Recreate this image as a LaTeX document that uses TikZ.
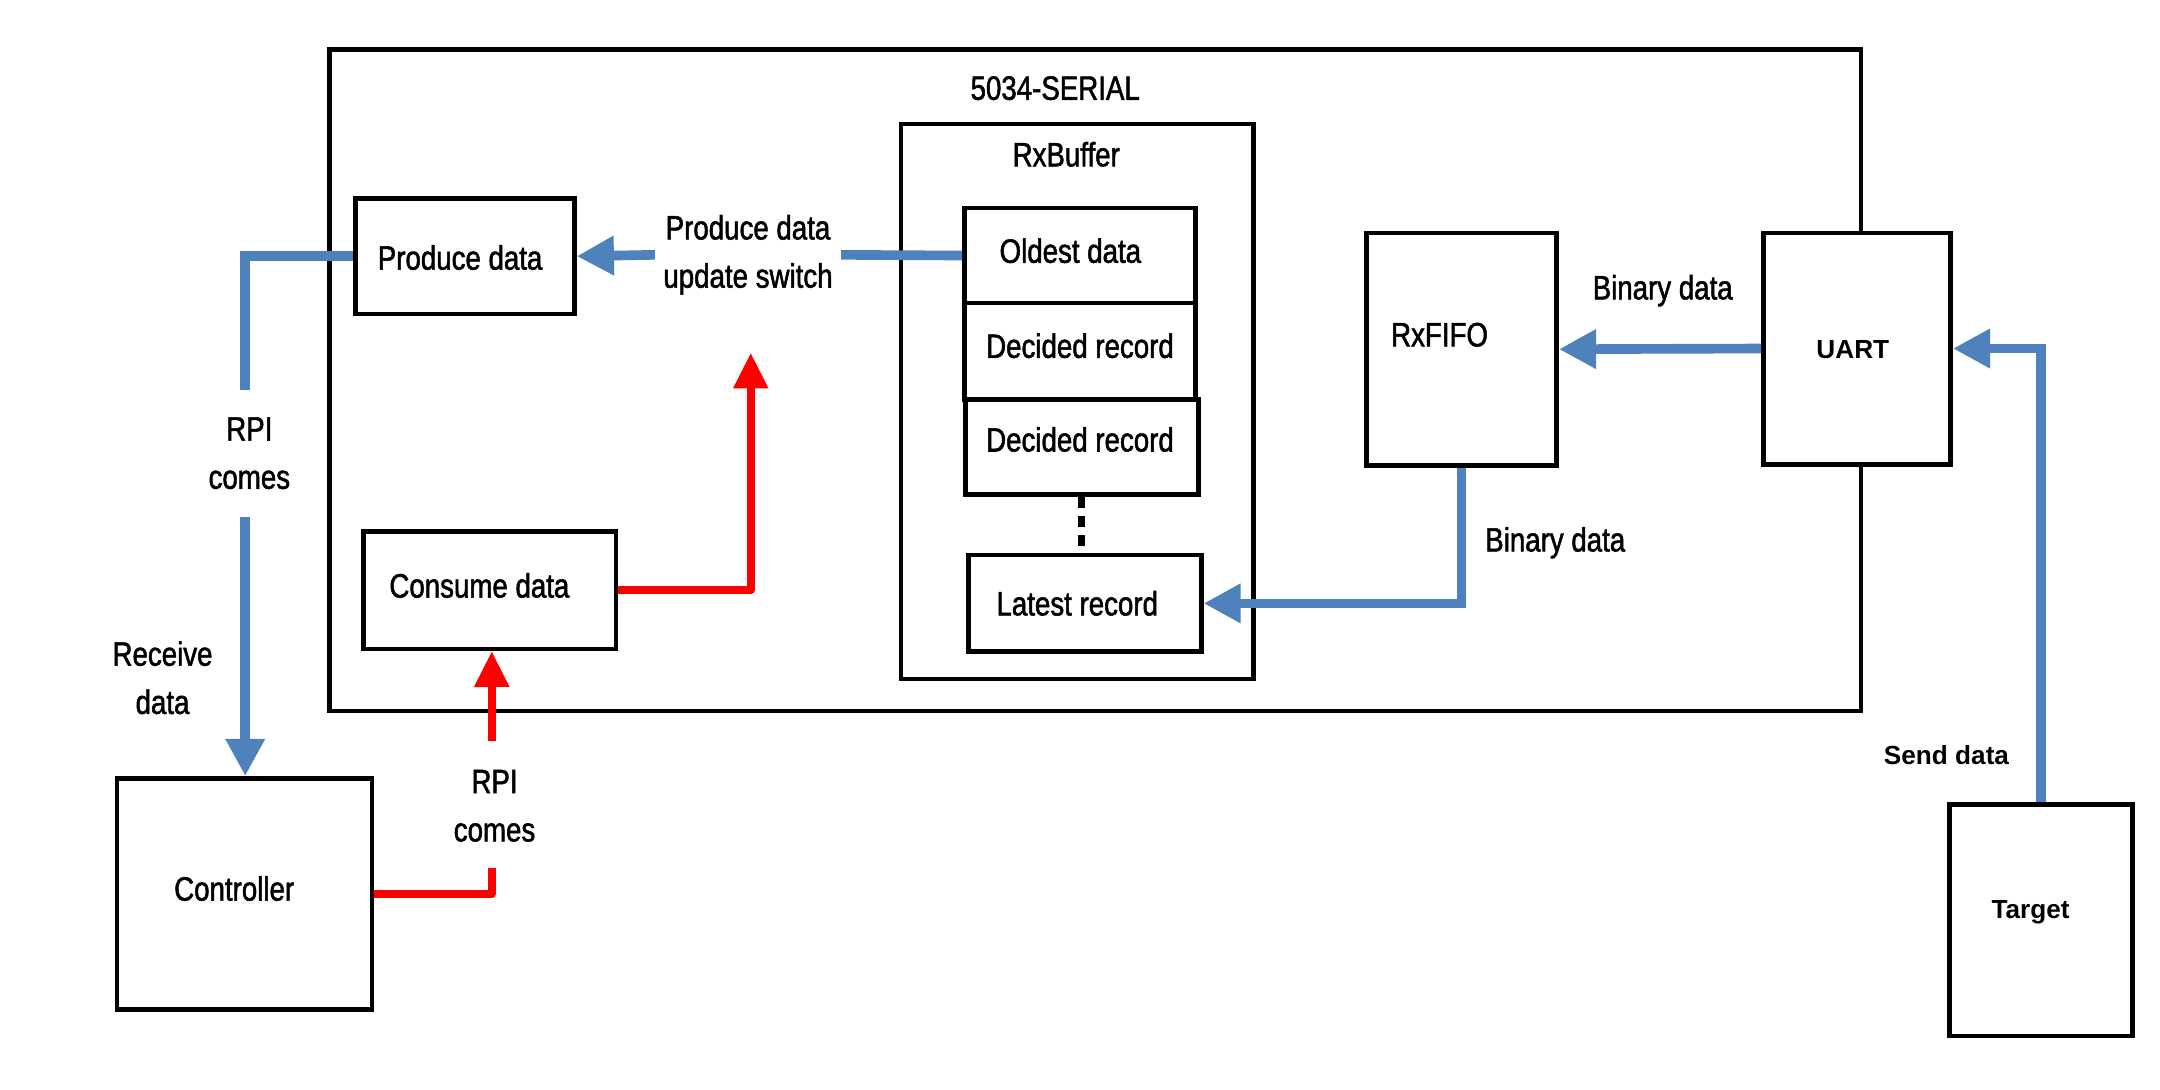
\documentclass[tikz,border=0pt]{standalone}
\usepackage{fontspec}
\setmainfont{Liberation Sans}[FakeStretch=0.82,FakeBold=1.5]
\newfontfamily\arialf{Liberation Sans}
\usetikzlibrary{arrows.meta,fit}
\definecolor{lblue}{RGB}{79,129,189}
\definecolor{lred}{RGB}{255,0,0}
\begin{document}
\begin{tikzpicture}[x=1pt,y=-1pt,
  box/.style={draw,line width=3.3pt,inner sep=0pt,fill=white},
  txt/.style={font=\fontsize{24.5}{35}\selectfont,inner sep=1pt,align=center},
  atxt/.style={font=\arialf\bfseries\fontsize{19}{23}\selectfont,inner sep=1pt},
  blline/.style={draw=lblue,line width=7pt},
  bl/.style={blline,-{Triangle[length=27pt,width=27pt]}},
  rdline/.style={draw=lred,line width=6pt,line join=round},
  rd/.style={rdline,-{Triangle[length=26pt,width=24pt]}},
]
\path[use as bounding box,fill=white] (0,0) rectangle (1568,791);

% containers
\node[box,fit={(239,36)(1351,516)}] (serial) {};
\node[txt] (serialt) at (766,64) {5034-SERIAL};
\node[box,fit={(654,90)(910,493)}] (rxbuf) {};
\node[txt] (rxbuft) at (774,112) {RxBuffer};

% RxBuffer records
\node[box,fit={(700,151)(868,220)}] (oldest) {};
\node[txt] (oldestt) at (777,182) {Oldest data};
\node[box,fit={(700,220)(868,290)}] (dec1) {};
\node[txt] (dec1t) at (784,251) {Decided record};
\node[box,fit={(701,290)(870,359)}] (dec2) {};
\node[txt] (dec2t) at (784,319) {Decided record};
\node[box,fit={(703,403)(872,473)}] (latest) {};
\node[txt] (latestt) at (782,438) {Latest record};
\draw[line width=5pt,dash pattern=on 8pt off 6pt] (dec2.south -| 785,0) -- (latest.north -| 785,0);

% other blocks
\node[box,fit={(258,144)(417,228)}] (produce) {};
\node[txt] (producet) at (334,187) {Produce data};
\node[box,fit={(264,386)(447,471)}] (consume) {};
\node[txt] (consumet) at (348,425) {Consume data};
\node[box,fit={(992,169)(1130,338)}] (rxfifo) {};
\node[txt] (rxfifot) at (1045,243) {RxFIFO};
\node[box,fit={(1280,169)(1416,337)}] (uart) {};
\node[atxt] (uartt) at (1345,254) {UART};
\node[box,fit={(85,565)(270,733)}] (controller) {};
\node[txt] (controllert) at (170,645) {Controller};
\node[box,fit={(1415,584)(1548,752)}] (target) {};
\node[atxt] (targett) at (1474,662) {Target};

% labels
\node[txt,inner sep=6pt] (upd) at (543,185) {Produce data\\update switch};
\node[txt] (rpi1) at (181,329) {RPI\\comes};
\node[txt] (recv) at (118,492) {Receive\\data};
\node[txt] (rpi2) at (359,585) {RPI\\comes};
\node[txt] (bin1) at (1207,211) {Binary data};
\node[txt] (bin2) at (1129,394) {Binary data};
\node[atxt] (send) at (1413,548) {Send data};

\coordinate (c1) at (178,283);
\coordinate (c2) at (178,375);
\coordinate (c3) at (545,256);
\coordinate (c4) at (357,630);
\coordinate (c5) at (357,538);

% blue connectors
\draw[blline] (oldest.west) -- (upd.east);
\draw[bl] (upd.west) -- (produce.east);
\draw[blline] (produce.west) -| (c1);
\draw[bl] (c2) -- (c2 |- controller.north);
\draw[bl] (rxfifo.south) |- (latest.east);
\draw[bl] (uart.west) -- (rxfifo.east);
\draw[bl] (target.north) |- (uart.east);

% red connectors
\draw[rd] (consume.east) -| (c3);
\draw[rdline] (controller.east) -| (c4);
\draw[rd] (c5) -- (c5 |- consume.south);
\end{tikzpicture}
\end{document}
